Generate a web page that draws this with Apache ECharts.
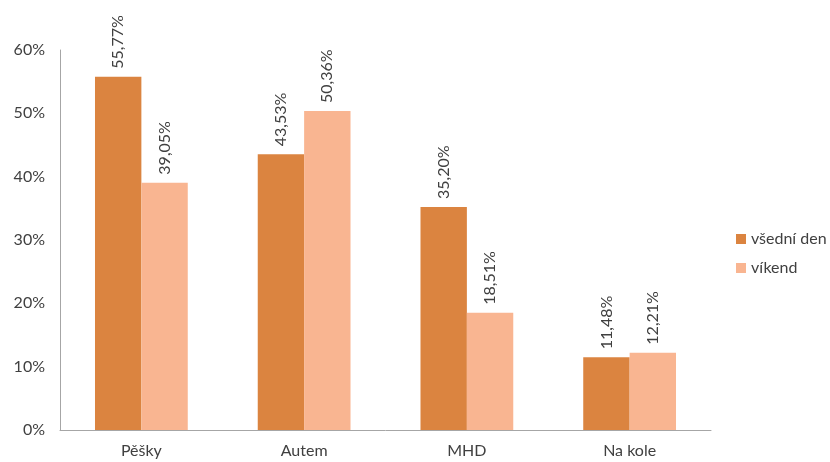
<!DOCTYPE html>
<html>
<head>
<meta charset="utf-8">
<script src="https://cdn.jsdelivr.net/npm/echarts@6/dist/echarts.min.js"></script>
<style>
  html, body { margin: 0; padding: 0; background: #fff; }
  #chart { width: 830px; height: 462px; }
</style>
</head>
<body>
<div id="chart"></div>
<script>
// Způsob dopravy – podíl cest ve všední den a o víkendu
const categories = ['Pěšky', 'Autem', 'MHD', 'Na kole'];
const weekday = [55.77, 43.53, 35.20, 11.48];
const weekend = [39.05, 50.36, 18.51, 12.21];
const seriesNames = ['všední den', 'víkend'];

const fontFamily = 'Lato, "Open Sans", sans-serif';
const textColor = '#404040';
const fontSize = 16;

const fmt = v => v.toFixed(2).replace('.', ',') + '%';

const labelOpt = {
  show: true,
  position: 'top',
  rotate: 90,
  align: 'left',
  verticalAlign: 'middle',
  distance: 8,
  color: textColor,
  fontSize: fontSize,
  fontFamily: fontFamily,
  formatter: p => fmt(p.value)
};

const chart = echarts.init(document.getElementById('chart'), null, { renderer: 'canvas' });
chart.setOption({
  animation: false,
  backgroundColor: '#ffffff',
  grid: { left: 60, right: 119, top: 50, bottom: 32, containLabel: false },
  legend: {
    orient: 'vertical',
    left: 731,
    top: 226,
    itemWidth: 10,
    itemHeight: 10,
    itemGap: 13,
    icon: 'rect',
    textStyle: { color: textColor, fontSize: fontSize, fontFamily: fontFamily },
    data: seriesNames
  },
  xAxis: {
    type: 'category',
    data: categories,
    axisLine: { lineStyle: { color: '#a6a6a6', width: 1 } },
    axisTick: { show: false },
    axisLabel: { color: textColor, fontSize: fontSize, fontFamily: fontFamily, margin: 13 }
  },
  yAxis: {
    type: 'value',
    min: 0,
    max: 60,
    interval: 10,
    axisLine: { show: true, lineStyle: { color: '#a6a6a6', width: 1 } },
    axisTick: { show: false },
    splitLine: { show: false },
    axisLabel: { color: textColor, fontSize: fontSize, fontFamily: fontFamily, margin: 15, formatter: '{value}%' }
  },
  series: [
    {
      name: seriesNames[0],
      type: 'bar',
      data: weekday,
      barGap: '0%',
      barCategoryGap: '43%',
      itemStyle: { color: '#db8440' },
      label: labelOpt
    },
    {
      name: seriesNames[1],
      type: 'bar',
      data: weekend,
      barGap: '0%',
      barCategoryGap: '43%',
      itemStyle: { color: '#f9b591' },
      label: labelOpt
    }
  ]
});
</script>
</body>
</html>
